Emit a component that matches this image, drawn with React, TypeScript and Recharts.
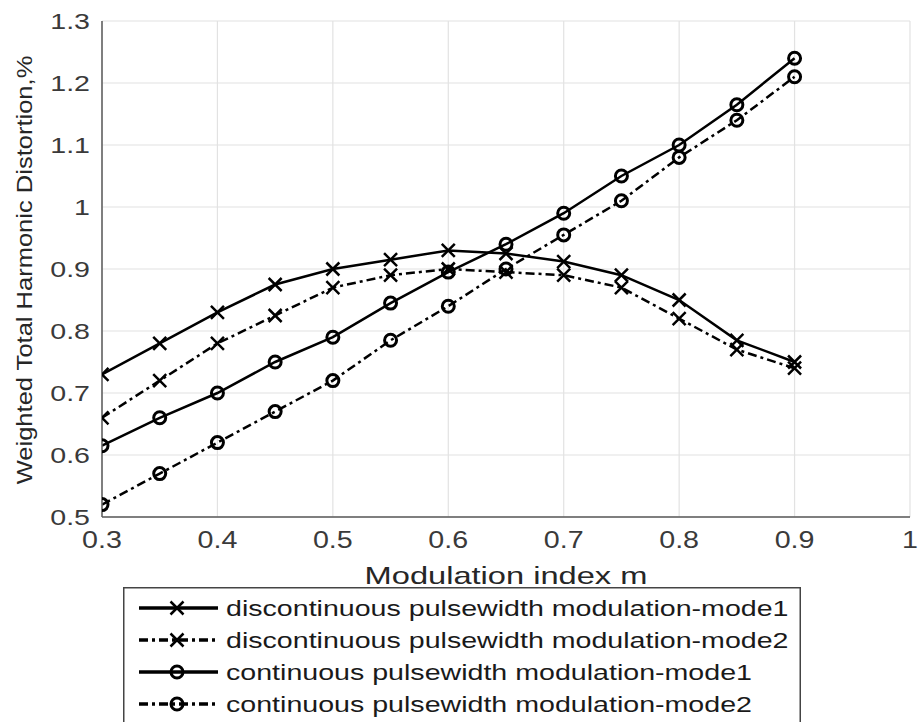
import { LineChart, Line, XAxis, YAxis, CartesianGrid, Legend } from 'recharts'

const modIndex = [0.3, 0.35, 0.4, 0.45, 0.5, 0.55, 0.6, 0.65, 0.7, 0.75, 0.8, 0.85, 0.9]
const dpwm1 = [0.73, 0.78, 0.83, 0.875, 0.9, 0.915, 0.93, 0.925, 0.912, 0.89, 0.85, 0.785, 0.75]
const dpwm2 = [0.66, 0.72, 0.78, 0.825, 0.87, 0.89, 0.9, 0.895, 0.89, 0.87, 0.82, 0.77, 0.74]
const cpwm1 = [0.615, 0.66, 0.7, 0.75, 0.79, 0.845, 0.895, 0.94, 0.99, 1.05, 1.1, 1.165, 1.24]
const cpwm2 = [0.52, 0.57, 0.62, 0.67, 0.72, 0.785, 0.84, 0.9, 0.955, 1.01, 1.08, 1.14, 1.21]

const xTicks = [0.3, 0.4, 0.5, 0.6, 0.7, 0.8, 0.9, 1]
const yTicks = [0.5, 0.6, 0.7, 0.8, 0.9, 1, 1.1, 1.2, 1.3]

const seriesNames = [
  'discontinuous pulsewidth modulation-mode1',
  'discontinuous pulsewidth modulation-mode2',
  'continuous pulsewidth modulation-mode1',
  'continuous pulsewidth modulation-mode2',
]

const data = modIndex.map((m, i) => ({
  m,
  d1: dpwm1[i],
  d2: dpwm2[i],
  c1: cpwm1[i],
  c2: cpwm2[i],
}))

const FONT = '"Liberation Sans", Arial, Helvetica, sans-serif'
const DASHDOT = '9 4 3 4'
const BOX = '#5a5a5a'
const TICK_COLOR = '#3a3a3a'

const series = [
  { key: 'd1', name: seriesNames[0], marker: 'x', dash: undefined },
  { key: 'd2', name: seriesNames[1], marker: 'x', dash: DASHDOT },
  { key: 'c1', name: seriesNames[2], marker: 'o', dash: undefined },
  { key: 'c2', name: seriesNames[3], marker: 'o', dash: DASHDOT },
]

const drawMarker = (kind: string, cx: number, cy: number, key?: any) => {
  if (kind === 'x') {
    const s = 6.5
    return (
      <path
        key={key}
        d={`M${cx - s},${cy - s}L${cx + s},${cy + s}M${cx - s},${cy + s}L${cx + s},${cy - s}`}
        stroke="#000"
        strokeWidth={2.5}
        fill="none"
      />
    )
  }
  return <circle key={key} cx={cx} cy={cy} r={6} stroke="#000" strokeWidth={3} fill="none" />
}

const fmt = (v: number) => String(+v.toFixed(1))

// matlab export is wider than liberation sans, so stretch glyphs horizontally
const XTick = ({ x, y, payload }: any) => (
  <text transform={`translate(${x},${y}) scale(1.22,1)`} textAnchor="middle" dy="0.71em" fill={TICK_COLOR} fontSize={23.5} fontFamily={FONT}>
    {fmt(payload.value)}
  </text>
)

const YTick = ({ x, y, payload }: any) => (
  <text transform={`translate(${x},${y}) scale(1.3,1)`} textAnchor="end" dy="0.355em" fill={TICK_COLOR} fontSize={22} fontFamily={FONT}>
    {fmt(payload.value)}
  </text>
)

function LegendBox() {
  return (
    <svg width={678} height={135} style={{ display: 'block', background: '#fff' }}>
      <path d="M0.75,135V0.75H677.25V135" stroke="#444" strokeWidth={1.5} fill="none" />
      {series.map((s, i) => {
        const cy = 21 + i * 32
        return (
          <g key={s.key}>
            <line x1={16} x2={95} y1={cy} y2={cy} stroke="#000" strokeWidth={3.5} strokeDasharray={s.dash} />
            {drawMarker(s.marker, 54, cy)}
            <text
              transform={`translate(103,${cy}) scale(1.3,1)`}
              dy="0.36em"
              fill="#1a1a1a"
              fontSize={22}
              fontFamily={FONT}
            >
              {s.name}
            </text>
          </g>
        )
      })}
    </svg>
  )
}

export default function App() {
  return (
    <div style={{ position: 'absolute', left: 0, top: 0, width: 919, height: 722, overflow: 'hidden', background: '#fff' }}>
      <LineChart width={919} height={722} data={data} margin={{ top: 21, right: 9, left: 32, bottom: 145 }}>
        <CartesianGrid xAxisId="b" yAxisId="l" stroke="#e2e2e2" strokeWidth={1.2} />
        <XAxis
          xAxisId="b"
          dataKey="m"
          type="number"
          domain={[0.3, 1]}
          ticks={xTicks}
          interval={0}
          allowDataOverflow
          tickLine={false}
          tickSize={0}
          tickMargin={14}
          height={60}
          axisLine={{ stroke: BOX, strokeWidth: 1.5 }}
          tick={<XTick />}
          label={({ viewBox }: any) => (
            <text
              transform={`translate(${viewBox.x + viewBox.width / 2},584) scale(1.36,1)`}
              textAnchor="middle"
              fill="#262626"
              fontSize={24}
              fontFamily={FONT}
            >
              Modulation index m
            </text>
          )}
        />
        <XAxis xAxisId="bm" dataKey="m" type="number" domain={[0.3, 1]} ticks={xTicks} interval={0} mirror height={0} axisLine={false} tickSize={5} tickLine={{ stroke: BOX }} tickFormatter={() => ''} />
        <XAxis xAxisId="t" dataKey="m" type="number" orientation="top" domain={[0.3, 1]} ticks={xTicks} interval={0} mirror height={0} axisLine={{ stroke: BOX, strokeWidth: 1.5 }} tickSize={5} tickLine={{ stroke: BOX }} tickFormatter={() => ''} />
        <YAxis
          yAxisId="l"
          type="number"
          domain={[0.5, 1.3]}
          ticks={yTicks}
          interval={0}
          allowDataOverflow
          tickLine={false}
          tickSize={0}
          tickMargin={12}
          width={70}
          axisLine={{ stroke: BOX, strokeWidth: 1.5 }}
          tick={<YTick />}
          label={({ viewBox }: any) => {
            const cy = viewBox.y + viewBox.height / 2 + 1
            return (
              <text
                transform={`translate(24,${cy}) rotate(-90) scale(1.16,1)`}
                textAnchor="middle"
                dy="0.36em"
                fill="#262626"
                fontSize={22}
                fontFamily={FONT}
              >
                Weighted Total Harmonic Distortion,%
              </text>
            )
          }}
        />
        <YAxis yAxisId="lm" type="number" domain={[0.5, 1.3]} ticks={yTicks} interval={0} mirror width={0} axisLine={false} tickSize={5} tickLine={{ stroke: BOX }} tickFormatter={() => ''} />
        <YAxis yAxisId="r" orientation="right" type="number" domain={[0.5, 1.3]} ticks={yTicks} interval={0} mirror width={0} axisLine={{ stroke: BOX, strokeWidth: 1.5 }} tickSize={6} tickLine={{ stroke: BOX }} tickFormatter={() => ''} />
        {series.map((s) => (
          <Line
            key={s.key}
            xAxisId="b"
            yAxisId="l"
            type="linear"
            dataKey={s.key}
            name={s.name}
            stroke="#000"
            strokeWidth={2.5}
            strokeDasharray={s.dash}
            dot={(p: any) => drawMarker(s.marker, p.cx, p.cy, `${s.key}-${p.index}`)}
            activeDot={false}
            isAnimationActive={false}
          />
        ))}
        <Legend
          layout="horizontal"
          verticalAlign="middle"
          align="center"
          content={() => <LegendBox />}
          wrapperStyle={{ left: 123, top: 587, width: 678, height: 135, bottom: 'auto', right: 'auto' }}
        />
      </LineChart>
    </div>
  )
}
